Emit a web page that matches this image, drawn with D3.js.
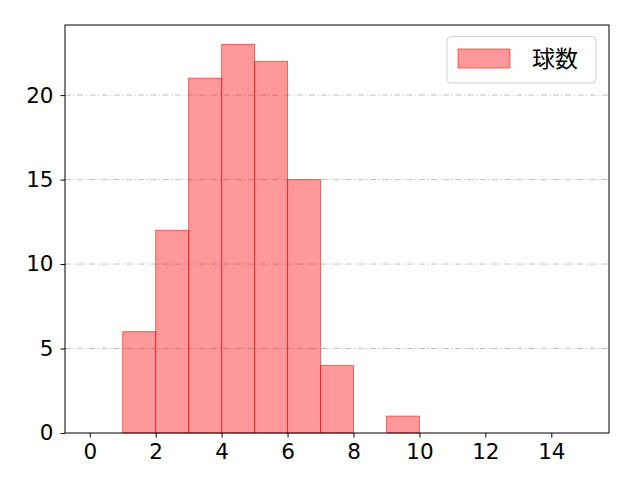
<!DOCTYPE html>
<html>
<head>
<meta charset="utf-8">
<script src="https://cdn.jsdelivr.net/npm/d3@7"></script>
<style>
  body { margin: 0; background: #fff; }
  svg { font-family: "Noto Sans CJK JP", "Noto Sans", sans-serif; }
</style>
</head>
<body>
<svg width="640" height="480"></svg>
<script>
// bins 0..15, width 1
const binEdges = [0, 1, 2, 3, 4, 5, 6, 7, 8, 9, 10, 11, 12, 13, 14, 15];
const counts = [0, 6, 12, 21, 23, 22, 15, 4, 0, 1, 0, 0, 0, 0, 0];
const xTicks = [0, 2, 4, 6, 8, 10, 12, 14];
const yTicks = [0, 5, 10, 15, 20];
const seriesName = "球数";

const svg = d3.select("svg");
const mLeft = 65, mRight = 609, mTop = 25, mBottom = 433;

const x = d3.scaleLinear().domain([-0.75, 15.75]).range([mLeft, mRight]);
const y = d3.scaleLinear().domain([0, 24.15]).range([mBottom, mTop]);

// grid lines (dash-dot)
svg.append("g")
  .selectAll("line")
  .data(yTicks.filter(d => d > 0))
  .enter().append("line")
  .attr("x1", mLeft).attr("x2", mRight)
  .attr("y1", d => y(d)).attr("y2", d => y(d))
  .style("stroke", "#b0b0b0")
  .style("stroke-width", 0.8)
  .style("stroke-dasharray", "6,2.5,1.2,2.5");

// bars
const bins = counts.map((c, i) => ({ x0: binEdges[i], x1: binEdges[i + 1], c }));
svg.append("g")
  .selectAll("rect")
  .data(bins)
  .enter().append("rect")
  .attr("x", d => x(d.x0))
  .attr("width", d => x(d.x1) - x(d.x0))
  .attr("y", d => y(d.c))
  .attr("height", d => y(0) - y(d.c))
  .style("fill", "rgba(255,0,0,0.4)")
  .style("stroke", "rgba(255,0,0,0.55)")
  .style("stroke-width", 1);

// frame
svg.append("rect")
  .attr("x", mLeft).attr("y", mTop)
  .attr("width", mRight - mLeft).attr("height", mBottom - mTop)
  .style("fill", "none")
  .style("stroke", "#000")
  .style("stroke-width", 1);

// axes
const xAxis = svg.append("g")
  .attr("transform", `translate(0,${mBottom})`)
  .call(d3.axisBottom(x).tickValues(xTicks).tickSize(4.5).tickPadding(6));
const yAxis = svg.append("g")
  .attr("transform", `translate(${mLeft},0)`)
  .call(d3.axisLeft(y).tickValues(yTicks).tickSize(4.5).tickPadding(7));
[xAxis, yAxis].forEach(a => {
  a.select(".domain").remove();
  a.selectAll("text").style("font-size", "21.5px").style("fill", "#000")
    .style("font-family", '"DejaVu Sans", sans-serif');
  a.selectAll("line").style("stroke", "#000");
});

// legend
const lg = svg.append("g");
lg.append("rect")
  .attr("x", 447).attr("y", 36.5).attr("width", 149).attr("height", 46.5)
  .attr("rx", 4)
  .style("fill", "rgba(255,255,255,0.8)")
  .style("stroke", "#d0d0d0");
lg.append("rect")
  .attr("x", 458).attr("y", 49).attr("width", 52).attr("height", 19)
  .style("fill", "rgba(255,0,0,0.4)")
  .style("stroke", "rgba(255,0,0,0.55)");
lg.append("text")
  .attr("x", 532).attr("y", 67)
  .style("font-size", "23px")
  .text(seriesName);
</script>
</body>
</html>
